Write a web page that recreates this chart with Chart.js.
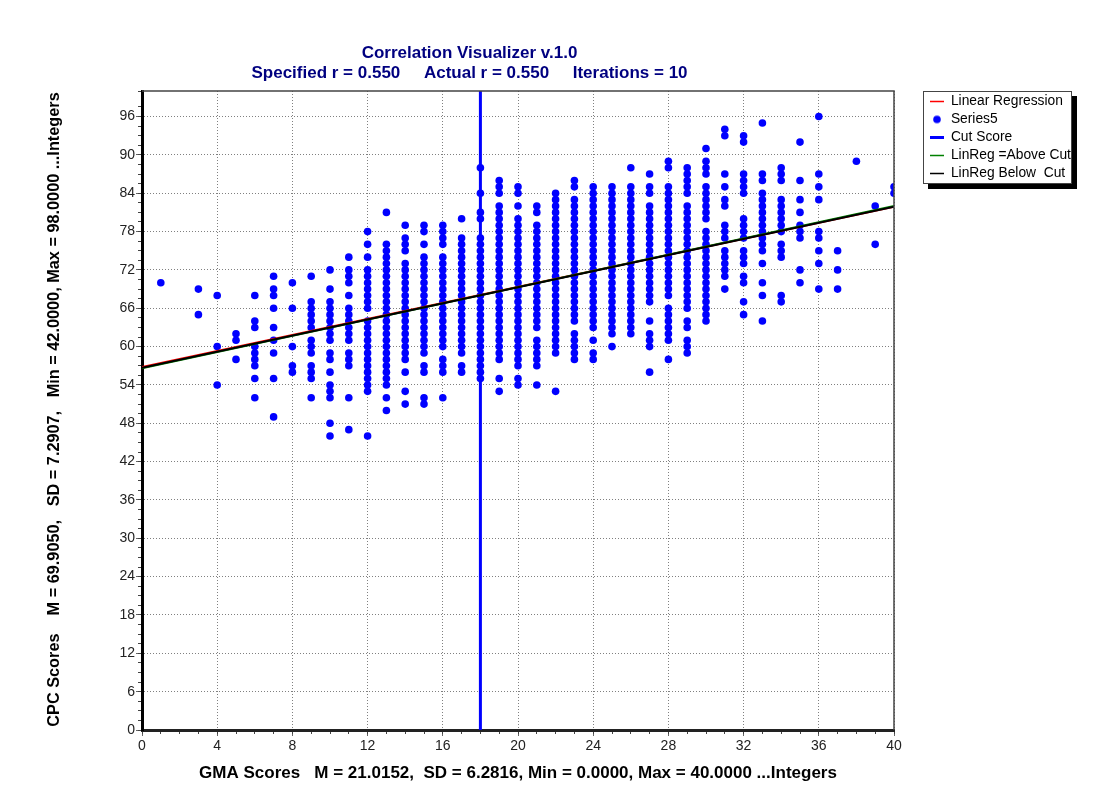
<!DOCTYPE html>
<html>
<head>
<meta charset="utf-8">
<title>Correlation Visualizer</title>
<script src="https://cdn.jsdelivr.net/npm/chart.js@4/dist/chart.umd.js"></script>
<style>
    html, body { margin: 0; padding: 0; background: #fff; }
    canvas { display: block; }
</style>
</head>
<body>
<canvas id="correlationChart" width="1101" height="807"></canvas>
<script>
// GMA score for each column of points
var gmaScores = [1, 3, 4, 5, 6, 7, 8, 9, 10, 11, 12, 13, 14, 15, 16, 17, 18, 19, 20,
    21, 22, 23, 24, 25, 26, 27, 28, 29, 30, 31, 32, 33, 34, 35, 36, 37, 38, 39, 40];

// CPC scores, one list per GMA score above
var cpcByGma = [
    [70],
    [69, 65],
    [68, 60, 54],
    [62, 61, 58],
    [68, 64, 63, 60, 59, 58, 57, 55, 52],
    [71, 69, 68, 66, 63, 61, 59, 55, 49],
    [70, 66, 60, 57, 56],
    [71, 67, 66, 65, 64, 63, 61, 60, 59, 57, 56, 55, 52],
    [72, 69, 67, 66, 65, 64, 63, 62, 61, 59, 58, 56, 54, 53, 52, 48, 46],
    [74, 72, 71, 70, 68, 66, 65, 64, 63, 62, 61, 59, 58, 57, 52, 47],
    [78, 76, 74, 72, 71, 70, 69, 68, 67, 66, 64, 63, 62, 61, 60, 59, 58, 57, 56, 55, 54, 53, 46],
    [81, 76, 75, 74, 73, 72, 71, 70, 69, 68, 67, 66, 65, 64, 63, 62, 61, 60, 59, 58, 57, 56, 55, 54, 52, 50],
    [79, 77, 76, 75, 73, 72, 71, 70, 69, 68, 67, 66, 65, 64, 63, 62, 61, 60, 59, 58, 56, 53, 51],
    [79, 78, 76, 74, 73, 72, 71, 70, 69, 68, 67, 66, 65, 64, 63, 62, 61, 60, 59, 57, 56, 52, 51],
    [79, 78, 77, 76, 74, 73, 72, 71, 70, 69, 68, 67, 66, 65, 64, 63, 62, 61, 60, 58, 57, 56, 52],
    [80, 77, 76, 75, 74, 73, 72, 71, 70, 69, 68, 67, 66, 65, 64, 63, 62, 61, 60, 59, 57, 56],
    [88, 84, 81, 80, 77, 76, 75, 74, 73, 72, 71, 70, 69, 68, 67, 66, 65, 64, 63, 62, 61, 60, 59, 58, 57, 56, 55],
    [86, 85, 84, 82, 81, 80, 79, 78, 77, 76, 75, 74, 73, 72, 71, 70, 69, 68, 67, 66, 65, 64, 63, 62, 61, 60, 59, 58, 55, 53],
    [85, 84, 82, 80, 79, 78, 77, 76, 75, 74, 73, 72, 71, 70, 69, 68, 67, 66, 65, 64, 63, 62, 61, 60, 59, 58, 57, 55, 54],
    [82, 81, 79, 78, 77, 76, 75, 74, 73, 72, 71, 70, 69, 68, 67, 66, 65, 64, 63, 61, 60, 59, 58, 57, 54],
    [84, 83, 82, 81, 80, 79, 78, 77, 76, 75, 74, 73, 72, 71, 70, 69, 68, 67, 66, 65, 64, 63, 62, 61, 60, 59, 53],
    [86, 85, 83, 82, 81, 80, 79, 78, 77, 76, 75, 74, 73, 72, 71, 70, 69, 68, 67, 66, 65, 64, 62, 61, 60, 59, 58],
    [85, 84, 83, 82, 81, 80, 79, 78, 77, 76, 75, 74, 73, 72, 71, 70, 69, 68, 67, 66, 65, 64, 63, 61, 59, 58],
    [85, 84, 83, 82, 81, 80, 79, 78, 77, 76, 75, 74, 73, 72, 71, 70, 69, 68, 67, 66, 65, 64, 63, 62, 60],
    [88, 85, 84, 83, 82, 81, 80, 79, 78, 77, 76, 75, 74, 73, 72, 71, 70, 69, 68, 67, 66, 65, 64, 63, 62],
    [87, 85, 84, 82, 81, 80, 79, 78, 77, 76, 75, 74, 73, 72, 71, 70, 69, 68, 67, 64, 62, 61, 60, 56],
    [89, 88, 85, 84, 83, 82, 81, 80, 79, 78, 77, 76, 75, 74, 73, 72, 71, 70, 69, 68, 66, 65, 64, 63, 62, 61, 58],
    [88, 87, 86, 85, 84, 82, 81, 80, 79, 78, 77, 76, 75, 74, 73, 72, 71, 70, 69, 68, 67, 66, 64, 63, 61, 60, 59],
    [91, 89, 88, 87, 85, 84, 83, 82, 81, 80, 78, 77, 76, 75, 74, 73, 72, 71, 70, 69, 68, 67, 66, 65, 64],
    [94, 93, 87, 85, 83, 82, 79, 78, 77, 75, 74, 73, 72, 71, 69],
    [93, 92, 87, 86, 85, 84, 80, 79, 78, 77, 75, 74, 73, 71, 70, 67, 65],
    [95, 87, 86, 84, 83, 82, 81, 80, 79, 78, 77, 76, 75, 73, 70, 68, 64],
    [88, 87, 86, 83, 82, 81, 80, 79, 78, 76, 75, 74, 68, 67],
    [92, 86, 83, 81, 79, 78, 77, 72, 70],
    [96, 87, 85, 83, 78, 77, 75, 73, 69],
    [75, 72, 69],
    [89],
    [82, 76],
    [85, 84]
];

// end points of the straight lines
var lineEndsX = [0, 40];
var regressionY = [56.8, 81.9];
var aboveCutY = [56.6, 82.0];
var belowCutY = [56.7, 81.9];
var cutScoreX = [18, 18];
var cutScoreY = [0, 100];

var titleLines = [
    'Correlation Visualizer v.1.0',
    'Specified r = 0.550     Actual r = 0.550     Iterations = 10'
];
var xAxisTitle = 'GMA Scores   M = 21.0152,  SD = 6.2816, Min = 0.0000, Max = 40.0000 ...Integers';
var yAxisTitle = 'CPC Scores    M = 69.9050,   SD = 7.2907,   Min = 42.0000, Max = 98.0000 ...Integers';

var FONT = '"Liberation Sans", Arial, sans-serif';
var BLUE = '#0000ff';

// turn the columns into points for the scatter series
var scorePoints = [];
gmaScores.forEach(function(gma, i) {
    cpcByGma[i].forEach(function(cpc) {
        scorePoints.push({ x: gma, y: cpc });
    });
});

function twoPoints(xs, ys) {
    return [{ x: xs[0], y: ys[0] }, { x: xs[1], y: ys[1] }];
}

// small dot for the legend, the line entries use pointStyle line
var legendDot = document.createElement('canvas');
legendDot.width = 10;
legendDot.height = 10;
var dotCtx = legendDot.getContext('2d');
dotCtx.fillStyle = BLUE;
dotCtx.beginPath();
dotCtx.arc(5, 5, 3.8, 0, Math.PI * 2);
dotCtx.fill();

// legend sits outside the plot, so move it after layout
var legendPlacer = {
    id: 'legendPlacer',
    afterLayout: function(chart) {
        var legend = chart.legend;
        legend.left = 925.8;
        legend.top = 90.3;
        legend.right = 1080;
        legend.bottom = 200;
    },
    beforeDraw: function(chart) {
        var ctx = chart.ctx;
        ctx.save();
        // legend shadow and frame
        ctx.fillStyle = '#000';
        ctx.fillRect(928, 96, 149, 93);
        ctx.fillStyle = '#fff';
        ctx.fillRect(923, 91, 149, 93);
        ctx.strokeStyle = '#444';
        ctx.lineWidth = 1;
        ctx.strokeRect(923.5, 91.5, 148, 92);
        ctx.restore();
    },
    afterDatasetsDraw: function(chart) {
        var ctx = chart.ctx;
        var area = chart.chartArea;
        ctx.save();
        // top and right edge of the plot
        ctx.strokeStyle = '#444';
        ctx.lineWidth = 1.5;
        ctx.beginPath();
        ctx.moveTo(area.left, area.top);
        ctx.lineTo(area.right, area.top);
        ctx.lineTo(area.right, area.bottom);
        ctx.stroke();

        // title is not centred on the plot in the original
        ctx.fillStyle = '#000080';
        ctx.font = 'bold 17px ' + FONT;
        ctx.textAlign = 'center';
        ctx.textBaseline = 'middle';
        ctx.fillText(titleLines[0], 469.5, 53.5);
        ctx.fillText(titleLines[1], 469.5, 73.5);

        ctx.fillStyle = '#000';
        ctx.font = 'bold 16.3px ' + FONT;
        ctx.translate(54.5, 409.5);
        ctx.rotate(-Math.PI / 2);
        ctx.fillText(yAxisTitle, 0, 0);
        ctx.restore();
    }
};

// every nth tick gets a label and a grid line, the minor ticks come from xMinor/yMinor
function keepMultiples(n) {
    return function(scale) {
        scale.ticks = scale.ticks.filter(function(t) { return t.value % n === 0; });
    };
}

var ctx = document.getElementById('correlationChart').getContext('2d');
var correlationChart = new Chart(ctx, {
    type: 'scatter',
    data: {
        datasets: [
            { label: 'Linear Regression', data: twoPoints(lineEndsX, regressionY), showLine: true, borderColor: '#ff0000', borderWidth: 2, pointRadius: 0, order: 4, clip: 0 },
            { label: 'Series5', data: scorePoints, backgroundColor: BLUE, borderColor: BLUE, pointRadius: 3.8, pointBorderWidth: 0, order: 5, clip: 0 },
            { label: 'Cut Score', data: twoPoints(cutScoreX, cutScoreY), showLine: true, borderColor: BLUE, borderWidth: 3, pointRadius: 0, order: 3, clip: 0 },
            { label: 'LinReg =Above Cut', data: twoPoints(lineEndsX, aboveCutY), showLine: true, borderColor: '#008000', borderWidth: 2, pointRadius: 0, order: 2, clip: 0 },
            { label: 'LinReg Below  Cut', data: twoPoints(lineEndsX, belowCutY), showLine: true, borderColor: '#000000', borderWidth: 2, pointRadius: 0, order: 1, clip: 0 }
        ]
    },
    options: {
        responsive: false,
        animation: false,
        layout: {
            padding: { left: 30, right: 207, top: 91, bottom: 20 }
        },
        scales: {
            x: {
                type: 'linear',
                position: 'bottom',
                min: 0,
                max: 40,
                afterFit: function(scale) { scale.height = 57; },
                title: {
                    display: true,
                    text: xAxisTitle,
                    color: '#000',
                    font: { family: FONT, size: 17, weight: 'bold' },
                    padding: { top: 6, bottom: 3 }
                },
                ticks: {
                    stepSize: 4,
                    autoSkip: false,
                    maxRotation: 0,
                    color: '#222',
                    font: { family: FONT, size: 14 },
                    padding: 2
                },
                border: { color: '#222', width: 3, dash: [1, 2] },
                grid: { tickLength: 6, tickColor: '#666', color: '#808080' }
            },
            xMinor: {
                type: 'linear',
                axis: 'x',
                position: 'bottom',
                weight: -1,
                min: 0,
                max: 40,
                afterFit: function(scale) { scale.height = 0; },
                ticks: { stepSize: 1, autoSkip: false, display: false },
                border: { display: false },
                grid: { drawOnChartArea: false, tickLength: 4, tickColor: '#444' }
            },
            y: {
                type: 'linear',
                position: 'left',
                min: 0,
                max: 100,
                afterFit: function(scale) { scale.width = 112; },
                afterBuildTicks: keepMultiples(6),
                ticks: {
                    stepSize: 6,
                    autoSkip: false,
                    color: '#222',
                    font: { family: FONT, size: 14 },
                    padding: 1
                },
                border: { color: '#000', width: 3, dash: [1, 2] },
                grid: { tickLength: 6, tickColor: '#666', color: '#808080' }
            },
            yMinor: {
                type: 'linear',
                axis: 'y',
                position: 'left',
                weight: -1,
                min: 0,
                max: 100,
                afterFit: function(scale) { scale.width = 0; },
                ticks: { stepSize: 1.5, autoSkip: false, display: false },
                border: { display: false },
                grid: { drawOnChartArea: false, tickLength: 4, tickColor: '#444' }
            }
        },
        plugins: {
            tooltip: { enabled: false },
            title: { display: false },
            legend: {
                display: true,
                position: 'chartArea',
                align: 'start',
                labels: {
                    usePointStyle: true,
                    pointStyleWidth: 14,
                    padding: 4.2,
                    color: '#111',
                    font: { family: FONT, size: 13.8, lineHeight: 1 },
                    generateLabels: function(chart) {
                        return chart.data.datasets.map(function(ds, i) {
                            return {
                                text: ds.label,
                                datasetIndex: i,
                                fillStyle: ds.borderColor,
                                strokeStyle: ds.borderColor,
                                lineWidth: ds.label === 'Cut Score' ? 3 : 1.5,
                                pointStyle: ds.showLine ? 'line' : legendDot
                            };
                        });
                    }
                }
            }
        }
    },
    plugins: [legendPlacer]
});
</script>
</body>
</html>
